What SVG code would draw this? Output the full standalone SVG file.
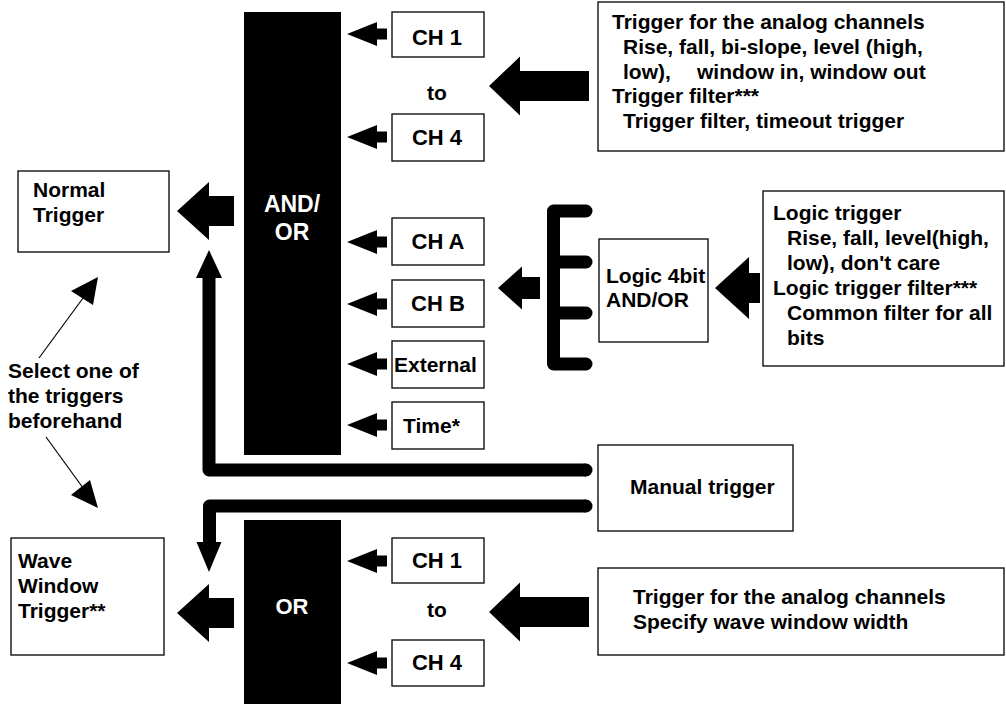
<svg xmlns="http://www.w3.org/2000/svg" xmlns:xlink="http://www.w3.org/1999/xlink" width="1006" height="704" viewBox="0 0 1006 704">
<style>
text{font-family:"Liberation Sans",Arial,Helvetica,sans-serif;font-weight:bold;fill:#000;}
.box{fill:#fff;stroke:#111;stroke-width:1.4;}
.bar{fill:#000;}
.wt{fill:#fff;font-size:23px;text-anchor:middle;}
.t21{font-size:21px;}
.ch{font-size:22px;text-anchor:middle;}
.mid{text-anchor:middle;}
.pipe{fill:none;stroke:#000;stroke-width:13;stroke-linecap:round;stroke-linejoin:round;}
.thin{fill:none;stroke:#000;stroke-width:1.2;}
</style>
<defs>
<path id="aS" d="M0,0 L30,-12 V-5.5 H40 V5.5 H30 V12 Z"/>
<path id="aM" d="M0,0 L32,-29 V-15 H57 V15 H32 V29 Z"/>
<path id="aL" d="M0,0 L31,-29.5 V-15 H100 V15 H31 V29.5 Z"/>
<path id="aLg1" d="M0,0 L24,-21.5 V-11 H42 V11 H24 V21.5 Z"/>
<path id="aLg2" d="M0,0 L34,-31 V-15 H45 V15 H34 V31 Z"/>
</defs>

<g id="and-or-bar">
<rect class="bar" x="244" y="12" width="97" height="443"/>
<text class="wt" x="292" y="212">AND/</text>
<text class="wt" x="292" y="240">OR</text>
</g>
<g id="or-bar">
<rect class="bar" x="244" y="520" width="97" height="190"/>
<text class="wt" x="292" y="614" style="font-size:22px">OR</text>
</g>

<g id="normal-trigger">
<rect class="box" x="18" y="171" width="151" height="81"/>
<text class="t21" x="33" y="197">Normal</text>
<text class="t21" x="33" y="222">Trigger</text>
</g>
<g id="wave-window-trigger">
<rect class="box" x="11" y="538" width="153" height="117"/>
<text class="t21" x="18" y="568">Wave</text>
<text class="t21" x="18" y="593">Window</text>
<text class="t21" x="18" y="618">Trigger**</text>
</g>

<g id="ch1-top"><rect class="box" x="392" y="12" width="92" height="45"/><text class="ch" x="437" y="45">CH 1</text></g>
<g id="to-top"><text class="t21 mid" x="437" y="100">to</text></g>
<g id="ch4-top"><rect class="box" x="392" y="114" width="92" height="47"/><text class="ch" x="437" y="145">CH 4</text></g>
<g id="cha"><rect class="box" x="392" y="218" width="92" height="47"/><text class="ch" x="438" y="249">CH A</text></g>
<g id="chb"><rect class="box" x="392" y="280" width="92" height="47"/><text class="ch" x="438" y="311">CH B</text></g>
<g id="external"><rect class="box" x="392" y="341" width="92" height="47"/><text class="t21" x="394" y="372">External</text></g>
<g id="time"><rect class="box" x="392" y="402" width="92" height="47"/><text class="t21" x="403" y="433">Time*</text></g>

<g id="ch1-bottom"><rect class="box" x="392" y="538" width="92" height="45"/><text class="ch" x="437" y="568">CH 1</text></g>
<g id="to-bottom"><text class="t21 mid" x="437" y="617">to</text></g>
<g id="ch4-bottom"><rect class="box" x="392" y="640" width="92" height="46"/><text class="ch" x="437" y="670">CH 4</text></g>

<g id="analog-trigger">
<rect class="box" x="598" y="2" width="406" height="149"/>
<text class="t21" x="612" y="29">Trigger for the analog channels</text>
<text class="t21" x="623" y="54">Rise, fall, bi-slope, level (high,</text>
<text class="t21" x="623" y="79">low),</text>
<text class="t21" x="697" y="79">window in, window out</text>
<text class="t21" x="612" y="103">Trigger filter***</text>
<text class="t21" x="623" y="128">Trigger filter, timeout trigger</text>
</g>

<g id="logic-4bit">
<rect class="box" x="599" y="239" width="109" height="103"/>
<text class="t21" x="606" y="283">Logic 4bit</text>
<text class="t21" x="606" y="307">AND/OR</text>
</g>

<g id="logic-trigger">
<rect class="box" x="763" y="191" width="241" height="175"/>
<text class="t21" x="773" y="220">Logic trigger</text>
<text class="t21" x="787" y="245">Rise, fall, level(high,</text>
<text class="t21" x="787" y="270">low), don't care</text>
<text class="t21" x="773" y="295">Logic trigger filter***</text>
<text class="t21" x="787" y="320">Common filter for all</text>
<text class="t21" x="787" y="345">bits</text>
</g>

<g id="manual-trigger">
<rect class="box" x="598" y="445" width="195" height="86"/>
<text class="t21" x="630" y="494">Manual trigger</text>
</g>

<g id="wave-analog-trigger">
<rect class="box" x="598" y="568" width="406" height="87"/>
<text class="t21" x="633" y="604">Trigger for the analog channels</text>
<text class="t21" x="633" y="629">Specify wave window width</text>
</g>

<g id="select-note">
<text class="t21" x="8" y="378">Select one of</text>
<text class="t21" x="8" y="403">the triggers</text>
<text class="t21" x="8" y="428">beforehand</text>
</g>

<g id="connectors">
<use xlink:href="#aM" x="177" y="211"/>
<use xlink:href="#aM" x="177" y="613"/>
<use xlink:href="#aS" x="347" y="34"/>
<use xlink:href="#aS" x="347" y="137"/>
<use xlink:href="#aS" x="347" y="242"/>
<use xlink:href="#aS" x="347" y="304"/>
<use xlink:href="#aS" x="347" y="364"/>
<use xlink:href="#aS" x="347" y="425"/>
<use xlink:href="#aS" x="347" y="561"/>
<use xlink:href="#aS" x="347" y="663"/>
<use xlink:href="#aL" x="489" y="86"/>
<use xlink:href="#aL" x="489" y="612"/>
<use xlink:href="#aLg1" x="498" y="288"/>
<use xlink:href="#aLg2" x="715" y="288"/>
<path class="pipe" d="M586,211 H553.5 V364 H586 M553.5,262 H586 M553.5,313 H586"/>
<path class="pipe" d="M209,276 V470 H586" style="stroke-linecap:butt"/>
<path d="M586,470 v0" class="pipe"/>
<polygon points="209,250 196,278 222,278"/>
<path class="pipe" d="M586,506 H209.5 V544" style="stroke-linecap:butt"/>
<path d="M586,506 v0" class="pipe"/>
<polygon points="209,572 196.5,542 221.5,542"/>
<line class="thin" x1="39" y1="358" x2="86" y2="294"/>
<polygon points="98,277 71,291 93,305"/>
<line class="thin" x1="46" y1="437" x2="86" y2="492"/>
<polygon points="98,508 71,495 90,480"/>
</g>
</svg>
